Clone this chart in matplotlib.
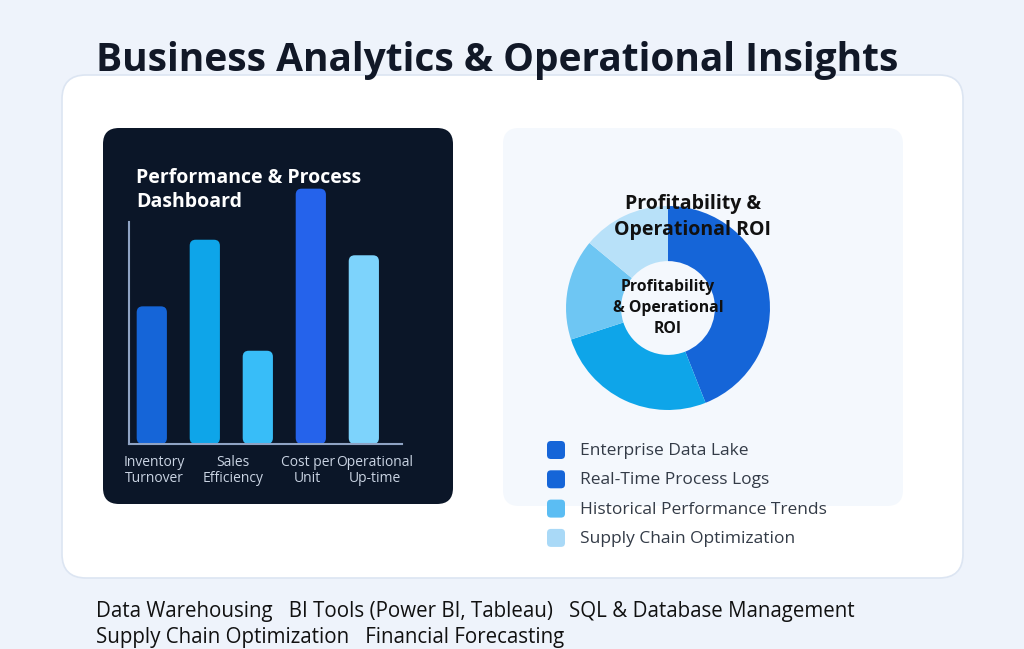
import matplotlib
matplotlib.use("Agg")
import matplotlib.pyplot as plt
from matplotlib.patches import FancyBboxPatch

W, H = 1024, 649

# ---- data ----
bar_values = [62, 92, 42, 115, 85]
bar_colors = ["#1565D8", "#0EA5E9", "#38BDF8", "#2563EB", "#7DD3FC"]
bar_labels = ["Inventory\nTurnover", "Sales\nEfficiency", "Cost per\nUnit", "Operational\nUp-time"]

donut_values = [44, 26, 16, 14]
donut_colors = ["#1565D8", "#0EA5E9", "#6EC6F3", "#B8E1F9"]
legend_labels = ["Enterprise Data Lake", "Real-Time Process Logs",
                 "Historical Performance Trends", "Supply Chain Optimization"]
legend_colors = ["#1565D8", "#1565D8", "#5BBDF3", "#A9D9F7"]

skills_line1 = "Data Warehousing   BI Tools (Power BI, Tableau)   SQL & Database Management"
skills_line2 = "Supply Chain Optimization   Financial Forecasting"

plt.rcParams["font.family"] = ["Open Sans", "DejaVu Sans"]


def frac(l, t, r, b):
    return [l / W, 1 - b / H, (r - l) / W, (b - t) / H]


fig = plt.figure(figsize=(W / 100, H / 100), dpi=100)
fig.patch.set_facecolor("#EEF3FB")

# background layer in pixel coordinates
bg = fig.add_axes([0, 0, 1, 1])
bg.set_xlim(0, W)
bg.set_ylim(H, 0)
bg.axis("off")
bg.add_patch(FancyBboxPatch((62, 75), 901, 503, boxstyle="round,pad=0,rounding_size=24",
                            fc="white", ec="#DCE5F2", lw=1.2))
bg.add_patch(FancyBboxPatch((503, 128), 400, 378, boxstyle="round,pad=0,rounding_size=16",
                            fc="#F4F8FD", ec="none"))
bg.add_patch(FancyBboxPatch((103, 128), 350, 376, boxstyle="round,pad=0,rounding_size=16",
                            fc="#0B1628", ec="none"))

bg.text(96, 60, "Business Analytics & Operational Insights", fontsize=28,
        fontweight="bold", color="#111827", va="center", ha="left")
bg.text(136, 190, "Performance & Process\nDashboard", fontsize=14, fontweight="bold",
        color="white", va="center", ha="left", linespacing=1.3)

# legend
for i, (lab, col) in enumerate(zip(legend_labels, legend_colors)):
    y = 450 + i * 29.3
    bg.add_patch(FancyBboxPatch((547, y - 9), 18, 18, boxstyle="round,pad=0,rounding_size=4",
                                fc=col, ec="none"))
    bg.text(580, y + 1, lab, fontsize=12.5, color="#333B47", va="center", ha="left")

bg.text(96, 612, skills_line1, fontsize=14.8, color="#111111", va="center", ha="left")
bg.text(96, 637, skills_line2, fontsize=14.8, color="#111111", va="center", ha="left")

# ---- bar chart ----
ax = fig.add_axes(frac(129, 180, 402, 444))
ax.set_facecolor("none")
x = list(range(len(bar_values)))
bars = ax.bar(x, bar_values, width=0.57, color=bar_colors)
ax.set_xlim(-0.43, 4.72)
ax.set_ylim(0, 118.9)
px_x = (4.72 + 0.43) / 273
px_y = 118.9 / 264
for b in bars:
    b.set_visible(False)
    ax.add_patch(FancyBboxPatch((b.get_x(), b.get_y()), b.get_width(), b.get_height(),
                                boxstyle="round,pad=0,rounding_size=%f" % (6 * px_x),
                                mutation_aspect=px_y / px_x, fc=b.get_facecolor(), ec="none"))
for s in ["top", "right"]:
    ax.spines[s].set_visible(False)
ax.spines["left"].set_bounds(0, 100)
for s in ["left", "bottom"]:
    ax.spines[s].set_color("#8FA3C4")
    ax.spines[s].set_linewidth(1.5)
ax.set_yticks([])
ax.set_xticks([0.04, 1.53, 2.94, 4.2])
ax.set_xticklabels(bar_labels, color="#C9D3E2", fontsize=10, linespacing=1.1)
ax.tick_params(axis="x", length=0, pad=8)

# ---- donut ----
dx = fig.add_axes(frac(563, 205, 773, 411))
dx.pie(donut_values, colors=donut_colors, startangle=90, counterclock=False,
       wedgeprops=dict(width=0.54, edgecolor="none"))
dx.set_xlim(-1.01, 1.01)
dx.set_ylim(-1.01, 1.01)
dx.set_aspect("equal")
dx.text(0.0, 0.0, "Profitability\n& Operational\nROI", fontsize=11.3, fontweight="bold",
        ha="center", va="center", color="#111111", linespacing=1.45)
fig.text(693 / W, 1 - 217 / H, "Profitability &\nOperational ROI", fontsize=14,
         fontweight="bold", ha="center", va="center", color="#111111", linespacing=1.35,
         zorder=5)

fig.savefig("out.png", dpi=100, facecolor=fig.get_facecolor())
